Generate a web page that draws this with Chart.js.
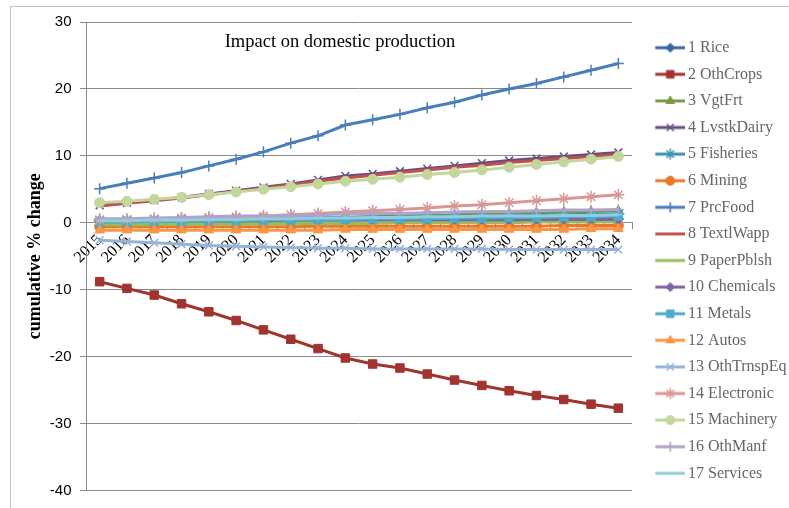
<!DOCTYPE html>
<html>
<head>
<meta charset="utf-8">
<script src="https://cdn.jsdelivr.net/npm/chart.js@4.4.0/dist/chart.umd.min.js"></script>
<style>
  html, body { margin: 0; padding: 0; background: #ffffff; }
  #wrap { position: relative; width: 789px; height: 508px; }
  canvas { display: block; }
</style>
</head>
<body>
<div id="wrap"><canvas id="chart" width="789" height="508"></canvas></div>
<script>
// Categories
const years = ['2015','2016','2017','2018','2019','2020','2021','2022','2023','2024',
               '2025','2026','2027','2028','2029','2030','2031','2032','2033','2034'];

// Y-axis ticks
const yTicks = [30, 20, 10, 0, -10, -20, -30, -40];

// Cumulative % change in domestic production, by sector
const rice       = [0.2,0.2,0.2,0.3,0.3,0.3,0.3,0.4,0.4,0.4,0.4,0.5,0.5,0.5,0.5,0.5,0.6,0.6,0.6,0.6];
const othCrops   = [-8.8,-9.8,-10.8,-12.1,-13.3,-14.6,-16.0,-17.4,-18.8,-20.2,-21.1,-21.7,-22.6,-23.5,-24.3,-25.1,-25.8,-26.4,-27.1,-27.7];
const vgtFrt     = [0.0,0.1,0.1,0.2,0.3,0.4,0.5,0.6,0.7,0.8,0.9,1.0,1.1,1.2,1.3,1.4,1.5,1.6,1.7,1.8];
const lvstkDairy = [2.6,3.0,3.4,3.8,4.3,4.8,5.3,5.8,6.4,7.0,7.3,7.7,8.1,8.5,8.9,9.3,9.6,9.9,10.2,10.5];
const fisheries  = [0.4,0.4,0.5,0.5,0.6,0.6,0.7,0.7,0.8,0.8,0.9,0.9,1.0,1.0,1.1,1.1,1.2,1.2,1.3,1.3];
const mining     = [-0.6,-0.6,-0.6,-0.6,-0.6,-0.6,-0.6,-0.6,-0.5,-0.5,-0.5,-0.5,-0.5,-0.5,-0.5,-0.5,-0.5,-0.4,-0.4,-0.4];
const prcFood    = [5.1,5.9,6.7,7.5,8.5,9.5,10.6,11.9,13.0,14.6,15.4,16.2,17.2,18.0,19.1,20.0,20.8,21.8,22.8,23.8];
const textlWapp  = [2.5,2.9,3.3,3.7,4.2,4.7,5.2,5.7,6.2,6.7,7.1,7.5,7.9,8.3,8.6,9.0,9.3,9.6,9.9,10.2];
const paperPblsh = [-0.3,-0.3,-0.3,-0.2,-0.2,-0.2,-0.2,-0.1,-0.1,-0.1,-0.1,0.0,0.0,0.0,0.0,0.0,0.1,0.1,0.1,0.1];
const chemicals  = [0.3,0.3,0.3,0.3,0.3,0.3,0.4,0.4,0.4,0.4,0.4,0.4,0.4,0.4,0.4,0.4,0.5,0.5,0.5,0.5];
const metals     = [0.1,0.1,0.2,0.2,0.3,0.3,0.4,0.4,0.5,0.5,0.6,0.6,0.6,0.7,0.7,0.8,0.8,0.9,0.9,1.0];
const autos      = [-1.1,-1.1,-1.1,-1.1,-1.1,-1.1,-1.1,-1.1,-1.1,-1.0,-1.0,-1.0,-1.0,-1.0,-1.0,-1.0,-1.0,-1.0,-0.9,-0.9];
const othTrnspEq = [-2.6,-2.8,-3.0,-3.2,-3.4,-3.5,-3.6,-3.7,-3.8,-3.8,-3.9,-3.9,-3.9,-3.9,-3.9,-4.0,-4.0,-4.0,-4.0,-4.0];
const electronic = [0.4,0.5,0.6,0.7,0.8,0.9,1.0,1.2,1.4,1.6,1.8,2.0,2.2,2.5,2.7,3.0,3.3,3.6,3.9,4.2];
const machinery  = [3.0,3.2,3.5,3.8,4.2,4.6,5.0,5.4,5.8,6.2,6.5,6.8,7.2,7.5,7.9,8.3,8.7,9.1,9.5,9.9];
const othManf    = [0.6,0.6,0.7,0.8,0.9,1.0,1.0,1.1,1.2,1.3,1.4,1.4,1.5,1.6,1.7,1.7,1.8,1.9,1.9,2.0];
const services   = [0.3,0.3,0.4,0.4,0.5,0.5,0.6,0.6,0.7,0.7,0.8,0.8,0.9,0.9,1.0,1.0,1.0,1.1,1.1,1.2];

const seriesNames = ['1 Rice','2 OthCrops','3 VgtFrt','4 LvstkDairy','5 Fisheries','6 Mining',
  '7 PrcFood','8 TextlWapp','9 PaperPblsh','10 Chemicals','11 Metals','12 Autos',
  '13 OthTrnspEq','14 Electronic','15 Machinery','16 OthManf','17 Services'];
const seriesValues = [rice, othCrops, vgtFrt, lvstkDairy, fisheries, mining,
  prcFood, textlWapp, paperPblsh, chemicals, metals, autos,
  othTrnspEq, electronic, machinery, othManf, services];

const chartTitle = 'Impact on domestic production';
const yAxisTitle = 'cumulative % change';

// Line colours and marker shapes per series
const seriesColors = ['#3a679f','#a2342f','#7a9a3e','#664e84','#3795ad','#e8792a',
  '#4a7ebb','#c0504d','#9bbb59','#8064a2','#4bacc6','#f79646',
  '#95b3d7','#d99694','#c3d69b','#b3a2c7','#93cddd'];
const seriesMarkers = ['rectRot','rect','triangle','crossRot','star','circle',
  'cross','line','line','rectRot','rect','triangle',
  'crossRot','star','circle','cross','line'];
const markerRadius = { rectRot: 5, rect: 6, triangle: 5.5, crossRot: 5.5, star: 6, circle: 5, cross: 5.5, line: 4 };
const strokeMarkers = { crossRot: true, star: true, cross: true, line: true };

// Small swatch (line + marker) used as the legend symbol
function legendSwatch(color, style) {
  const c = document.createElement('canvas');
  c.width = 48; c.height = 14;
  const g = c.getContext('2d');
  g.strokeStyle = color; g.fillStyle = color;
  g.lineWidth = 3;
  g.beginPath(); g.moveTo(18, 7); g.lineTo(48, 7); g.stroke();
  g.lineWidth = strokeMarkers[style] ? 1.5 : 1;
  Chart.helpers.drawPoint(g, { pointStyle: style, radius: markerRadius[style] * 0.9, rotation: 0, borderWidth: g.lineWidth }, 33, 7);
  return c;
}
const swatches = seriesColors.map((c, i) => legendSwatch(c, seriesMarkers[i]));

const datasets = seriesNames.map((name, i) => ({
  label: name,
  data: seriesValues[i],
  borderColor: seriesColors[i],
  backgroundColor: seriesColors[i],
  borderWidth: 3,
  pointStyle: seriesMarkers[i],
  pointRadius: markerRadius[seriesMarkers[i]],
  pointBorderWidth: strokeMarkers[seriesMarkers[i]] ? 1.5 : 1,
  pointBorderColor: seriesColors[i],
  pointBackgroundColor: seriesColors[i],
  tension: 0,
  fill: false,
  order: seriesNames.length - i
}));

// Grey frame around the chart
const framePlugin = {
  id: 'frame',
  beforeDraw(chart) {
    const ctx = chart.ctx;
    ctx.save();
    ctx.strokeStyle = '#c4c4c4';
    ctx.lineWidth = 1;
    ctx.strokeRect(10.5, 6.5, 900, 600);
    ctx.restore();
  }
};

// Title drawn inside the plot area
const innerTitlePlugin = {
  id: 'innerTitle',
  afterDraw(chart) {
    const a = chart.chartArea;
    const ctx = chart.ctx;
    ctx.save();
    ctx.font = '18.5px "Liberation Serif"';
    ctx.fillStyle = '#000';
    ctx.textAlign = 'center';
    ctx.textBaseline = 'middle';
    ctx.fillText(chartTitle, a.left + 254, a.top + 20);
    ctx.restore();
  }
};

const gridGrey = '#8a8a8a';

new Chart(document.getElementById('chart'), {
  type: 'line',
  data: { labels: years, datasets },
  options: {
    responsive: false,
    animation: false,
    devicePixelRatio: 1,
    layout: { padding: { top: 22, bottom: 15, left: 0, right: 0 } },
    plugins: {
      title: { display: false },
      tooltip: { enabled: false },
      legend: {
        position: 'right',
        align: 'center',
        maxWidth: 157,
        title: { display: true, text: '', font: { size: 4, lineHeight: 1 }, padding: 1 },
        labels: {
          usePointStyle: true,
          pointStyleWidth: 37.4,
          padding: 10.6,
          color: '#000',
          font: { family: 'Liberation Serif', size: 16 },
          generateLabels: (chart) => chart.data.datasets.map((ds, i) => ({
            text: ds.label,
            pointStyle: swatches[i],
            fillStyle: 'rgba(0,0,0,0)',
            strokeStyle: 'rgba(0,0,0,0)',
            lineWidth: 0,
            hidden: false,
            datasetIndex: i
          }))
        }
      }
    },
    scales: {
      x: {
        position: { y: 0 },
        offset: true,
        z: 1,
        grid: { display: true, drawOnChartArea: false, offset: true, tickLength: 6, color: gridGrey },
        border: { display: true, color: gridGrey, width: 1 },
        ticks: {
          autoSkip: false, minRotation: 45, maxRotation: 45, padding: 2,
          color: '#000', font: { family: 'Liberation Serif', size: 16 }
        }
      },
      y: {
        min: -40, max: 30,
        afterBuildTicks: (s) => { s.ticks = yTicks.map(v => ({ value: v })); },
        afterFit: (s) => { s.width = 86; },
        grid: { color: gridGrey, lineWidth: 1, tickLength: 6, tickColor: gridGrey },
        border: { display: true, color: gridGrey, width: 1 },
        ticks: { padding: 8.5, color: '#000', font: { family: 'Liberation Sans', size: 15 } },
        title: {
          display: true, text: yAxisTitle, color: '#000',
          font: { family: 'Liberation Serif', size: 18, weight: 'bold' },
          padding: { top: 25, bottom: 0 }
        }
      }
    }
  },
  plugins: [framePlugin, innerTitlePlugin]
});
</script>
</body>
</html>
